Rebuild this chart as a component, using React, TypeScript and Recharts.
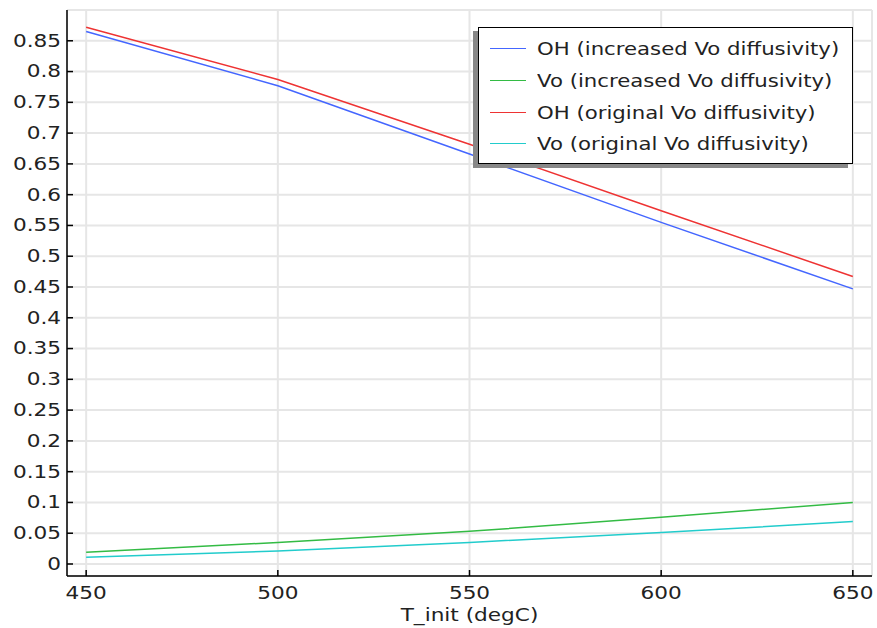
import { LineChart, Line, XAxis, YAxis, CartesianGrid } from 'recharts';

const temps = [450, 500, 550, 600, 650];
const ohIncreased = [0.865, 0.777, 0.666, 0.555, 0.447];
const voIncreased = [0.019, 0.035, 0.053, 0.076, 0.1];
const ohOriginal = [0.872, 0.787, 0.682, 0.574, 0.467];
const voOriginal = [0.011, 0.021, 0.035, 0.051, 0.069];

const xTicks = [450, 500, 550, 600, 650];
const yTicks = [0, 0.05, 0.1, 0.15, 0.2, 0.25, 0.3, 0.35, 0.4, 0.45, 0.5, 0.55, 0.6, 0.65, 0.7, 0.75, 0.8, 0.85];

const SERIES = [
  { key: 'ohInc', name: 'OH (increased Vo diffusivity)', color: '#4466ff' },
  { key: 'voInc', name: 'Vo (increased Vo diffusivity)', color: '#33bb44' },
  { key: 'ohOrig', name: 'OH (original Vo diffusivity)', color: '#ee3333' },
  { key: 'voOrig', name: 'Vo (original Vo diffusivity)', color: '#22cccc' },
];

const data = temps.map((t, i) => ({
  t,
  ohInc: ohIncreased[i],
  voInc: voIncreased[i],
  ohOrig: ohOriginal[i],
  voOrig: voOriginal[i],
}));

const FONT = '"DejaVu Sans", sans-serif';
const STRETCH = 1.2; // the reference text is a bit wide

// tick text, stretched horizontally about its anchor
const StretchTick = ({ x, y, payload, anchor }: any) => (
  <text
    transform={`translate(${x},${y}) scale(${STRETCH},1)`}
    textAnchor={anchor}
    dominantBaseline="central"
    fontFamily={FONT}
    fontSize={18}
    fill="#222"
  >
    {payload.value}
  </text>
);

const AxisTitle = ({ viewBox }: any) => (
  <text
    transform={`translate(${viewBox.x + viewBox.width / 2},${viewBox.y + viewBox.height - 13}) scale(${STRETCH},1)`}
    textAnchor="middle"
    dominantBaseline="central"
    fontFamily={FONT}
    fontSize={18}
    fill="#222"
  >
    T_init (degC)
  </text>
);

const LegendBox = () => (
  <div
    style={{
      position: 'absolute',
      left: 478,
      top: 27,
      width: 375,
      height: 137,
      boxSizing: 'border-box',
      background: '#fff',
      border: '1.5px solid #000',
      boxShadow: '-5px 4px 0 #888',
      paddingTop: 5,
      fontFamily: FONT,
      fontSize: 18,
      color: '#222',
    }}
  >
    {SERIES.map((s) => (
      <div key={s.key} style={{ display: 'flex', alignItems: 'center', height: 31.7, paddingLeft: 11 }}>
        <div style={{ width: 36, borderTop: `1.5px solid ${s.color}`, marginRight: 11 }} />
        <span style={{ display: 'inline-block', transform: `scaleX(${STRETCH - 0.02})`, transformOrigin: 'left center', whiteSpace: 'nowrap' }}>
          {s.name}
        </span>
      </div>
    ))}
  </div>
);

export default function App() {
  return (
    <div style={{ position: 'absolute', left: 0, top: 0, width: 877, height: 628, background: '#fff' }}>
      <LineChart width={877} height={628} data={data} margin={{ top: 10, right: 5, left: 0, bottom: 0 }}>
        <CartesianGrid stroke="#e6e6e6" strokeWidth={2} />
        <XAxis
          dataKey="t"
          type="number"
          domain={[445, 655]}
          ticks={xTicks}
          height={52}
          stroke="#000"
          strokeWidth={1.5}
          tickSize={-6}
          tickMargin={23}
          tick={<StretchTick anchor="middle" />}
          label={<AxisTitle />}
        />
        <XAxis
          xAxisId="top"
          dataKey="t"
          type="number"
          domain={[445, 655]}
          ticks={xTicks}
          orientation="top"
          height={0}
          stroke="#000"
          strokeWidth={1.5}
          tickSize={-6}
          tick={false}
        />
        <YAxis
          type="number"
          domain={[-0.0195, 0.9]}
          ticks={yTicks}
          width={67}
          stroke="#000"
          strokeWidth={1.5}
          tickSize={-6}
          tickMargin={12}
          tick={<StretchTick anchor="end" />}
          interval={0}
          allowDataOverflow
        />
        <YAxis
          yAxisId="right"
          orientation="right"
          type="number"
          domain={[-0.0195, 0.9]}
          ticks={yTicks}
          width={0}
          stroke="#000"
          strokeWidth={1.5}
          tickSize={-6}
          tick={false}
          interval={0}
          allowDataOverflow
        />
        {SERIES.map((s) => (
          <Line
            key={s.key}
            type="linear"
            dataKey={s.key}
            name={s.name}
            stroke={s.color}
            strokeWidth={1.5}
            dot={false}
            isAnimationActive={false}
          />
        ))}
      </LineChart>
      <LegendBox />
    </div>
  );
}
